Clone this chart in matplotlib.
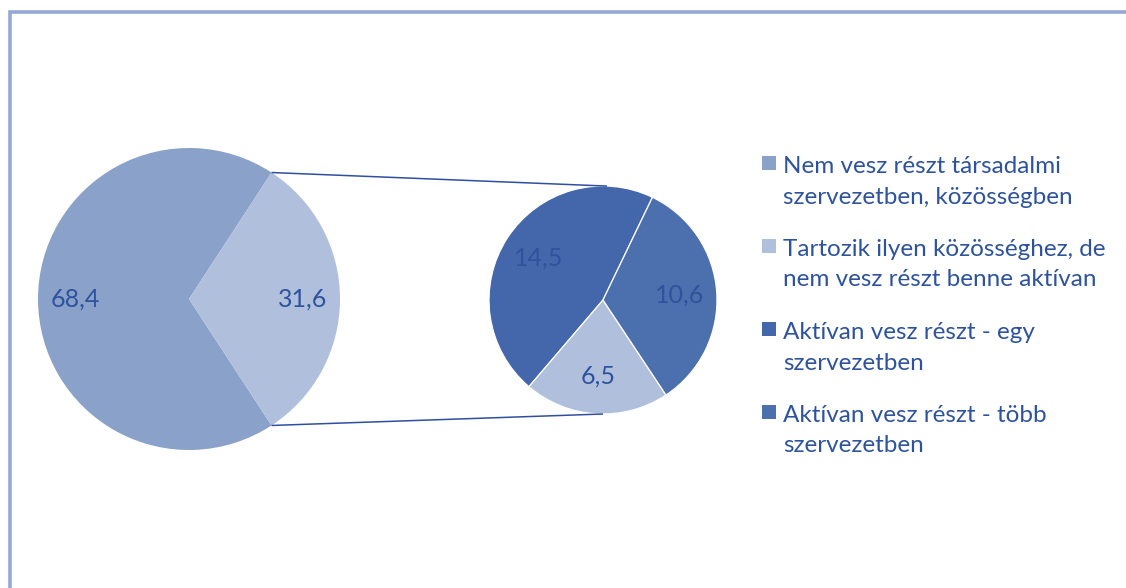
import numpy as np
import matplotlib
matplotlib.use("Agg")
import matplotlib.pyplot as plt
from matplotlib.patches import Rectangle

# ---- data ----
categories = [
    "Nem vesz részt társadalmi\nszervezetben, közösségben",
    "Tartozik ilyen közösséghez, de\nnem vesz részt benne aktívan",
    "Aktívan vesz részt - egy\nszervezetben",
    "Aktívan vesz részt - több\nszervezetben",
]
values = [68.4, 6.5, 14.5, 10.6]
colors = ["#8AA2C9", "#B0BFDC", "#4466AA", "#4C6FAE"]
second_order = [2, 1, 3]   # order of categories in the secondary pie (counter-clockwise)

TEXT = "#2E539E"
W, H = 1126, 588

def fmt(v):
    return f"{v:.1f}".replace(".", ",")

def Y(y):
    return H - y

fig = plt.figure(figsize=(W / 100, H / 100), dpi=100)
ax = fig.add_axes([0, 0, 1, 1])
plt.rcParams["font.family"] = ["Lato", "DejaVu Sans"]
FAM = ["Lato", "DejaVu Sans"]

# ---- main pie ----
main_vals = [values[0], sum(values[1:])]
main_cols = [colors[0], colors[1]]
c1, r1 = (189, Y(299)), 151
other_half = main_vals[1] / sum(main_vals) * 180
w1, _ = ax.pie(main_vals, colors=main_cols, center=c1, radius=r1,
               startangle=other_half, counterclock=True,
               wedgeprops=dict(linewidth=0))
for w, v in zip(w1, main_vals):
    a = np.deg2rad((w.theta1 + w.theta2) / 2)
    ax.text(c1[0] + 0.75 * r1 * np.cos(a), c1[1] + 0.75 * r1 * np.sin(a), fmt(v),
            ha="center", va="center", color=TEXT, fontsize=18, family=FAM)

# ---- secondary pie ----
c2, r2 = (603, Y(300)), 114
sec_vals = [values[i] for i in second_order]
sec_cols = [colors[i] for i in second_order]
w2, _ = ax.pie(sec_vals, colors=sec_cols, center=c2, radius=r2,
               startangle=64.3, counterclock=True,
               wedgeprops=dict(edgecolor="white", linewidth=0.9))
for w, v in zip(w2, sec_vals):
    a = np.deg2rad((w.theta1 + w.theta2) / 2)
    ax.text(c2[0] + 0.67 * r2 * np.cos(a), c2[1] + 0.67 * r2 * np.sin(a), fmt(v),
            ha="center", va="center", color=TEXT, fontsize=18, family=FAM)

# ---- connector lines ----
for ang_main, ang_sec in [(other_half, 88), (-other_half, 270)]:
    am, asec = np.deg2rad(ang_main), np.deg2rad(ang_sec)
    ax.plot([c1[0] + r1 * np.cos(am), c2[0] + r2 * np.cos(asec)],
            [c1[1] + r1 * np.sin(am), c2[1] + r2 * np.sin(asec)],
            color="#2F4F9F", linewidth=1.1, solid_capstyle="butt")

# ---- legend ----
leg_x, leg_y0, step, line_h = 762, 173, 83, 30.5
for i, (lab, col) in enumerate(zip(categories, colors)):
    base = leg_y0 + i * step
    ax.add_patch(Rectangle((leg_x, Y(base - 3)), 14, 14, facecolor=col, edgecolor="none"))
    for j, line in enumerate(lab.split("\n")):
        ax.text(783, Y(base + j * line_h), line, ha="left", va="baseline",
                color=TEXT, fontsize=17.5, family=FAM)

# ---- frame ----
ax.plot([9.5, 9.5, W], [0, Y(11.5), Y(11.5)], color="#94A9D4", linewidth=2.6,
        solid_joinstyle="miter")

ax.set_xlim(0, W)
ax.set_ylim(0, H)
ax.set_aspect("auto")
ax.axis("off")
fig.savefig("out.png", dpi=100, facecolor="white")
